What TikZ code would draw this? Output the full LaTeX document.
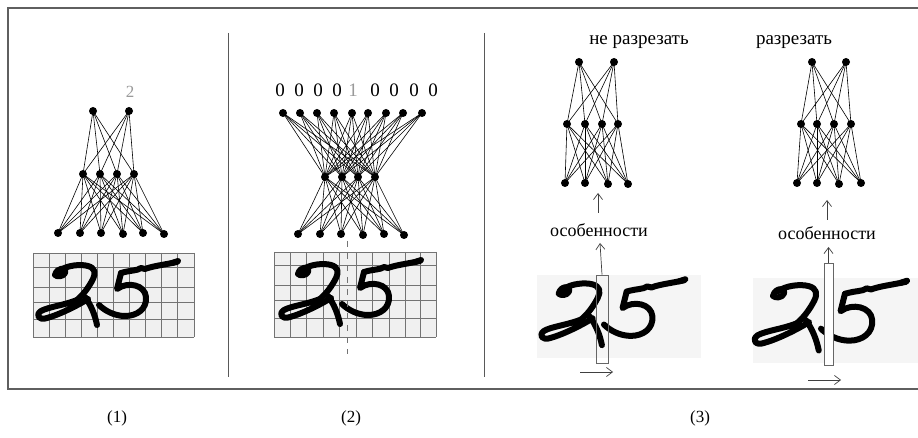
\documentclass[tikz,border=0pt]{standalone}
\usepackage{fontspec}
\setmainfont{Liberation Serif}
\usetikzlibrary{arrows.meta}
\definecolor{framegray}{HTML}{5F5F5F}
\definecolor{lightdigit}{HTML}{9A9A9A}
\tikzset{
  dot/.style={circle, fill=black, inner sep=0pt, minimum size=8pt},
  net/.style={line width=0.6pt, black},
  frameline/.style={line width=1.8pt, color=framegray},
  divider/.style={line width=0.9pt, color=black!65},
  gridcell/.style={fill=black!6},
  gridline/.style={line width=0.9pt, color=black!55},
  digit/.style={line width=6pt, line cap=round, line join=round, black},
  lbl/.style={font=\fontsize{17}{20}\selectfont, inner sep=0pt},
  captext/.style={font=\fontsize{19}{22}\selectfont, inner sep=0pt},
  feattext/.style={font=\fontsize{18}{21}\selectfont, inner sep=0pt},
  bigdigit/.style={font=\fontsize{19}{22}\selectfont, inner sep=0pt},
  arr/.style={-{Straight Barb[length=6pt, width=9pt]}, line width=0.7pt, color=black!75},
  slitbox/.style={draw=black!60, line width=0.8pt, inner sep=0pt},
}
\newcommand{\handtwentyfive}[3]{%
  \begin{scope}[shift={(#1,#2)}, scale=#3]
    % the two
    \draw[digit] (22,22) .. controls (24,14) and (34,14) .. (32,20) .. controls (30,24) and (24,24) .. (22,22);
    \draw[digit] (26,18) .. controls (34,12) and (48,11) .. (55,13) .. controls (62,15) and (63,20) .. (60,26) .. controls (56,34) and (50,42) .. (44,47);
    \draw[digit] (44,47) .. controls (32,52) and (15,54) .. (8,58) .. controls (2,62) and (6,68) .. (14,65) .. controls (25,62) and (42,54) .. (55,46);
    \draw[digit] (52,44) .. controls (58,52) and (62,62) .. (64,72);
    % the five
    \draw[digit] (88,20) .. controls (98,17) and (104,18) .. (108,15) -- (112,16) .. controls (120,13) and (130,12) .. (144,9);
    \draw[digit] (139,10) -- (145,8);
    \draw[digit] (88,20) -- (84,36) .. controls (95,28) and (112,32) .. (113,44) .. controls (114,56) and (104,63) .. (92,63) .. controls (82,63) and (72,58) .. (66,52);
  \end{scope}%
}
\begin{document}
\begin{tikzpicture}[x=1pt, y=-1pt]
\useasboundingbox (0,0) rectangle (918,438);
\fill[white] (0,0) rectangle (918,438);

% frame and dividers
\coordinate (frTR) at (922,8);
\coordinate (frTL) at (8,8);
\coordinate (frBL) at (8,389);
\coordinate (frBR) at (922,389);
\draw[frameline] (frTR) -- (frTL) -- (frBL) -- (frBR);
\coordinate (d1t) at (228,33); \coordinate (d1b) at (228,377);
\coordinate (d2t) at (484,33); \coordinate (d2b) at (484,377);
\draw[divider] (d1t) -- (d1b);
\draw[divider] (d2t) -- (d2b);

% ---------------- panel 1 ----------------
\fill[gridcell] (33,253) rectangle (194,337);
\foreach \i in {0,...,10} \draw[gridline] ({33+16.1*\i},253) -- ({33+16.1*\i},337);
\foreach \yy in {253,267,287,302,319,337} \draw[gridline] (33,\yy) -- (194,\yy);
\handtwentyfive{33}{253}{1}

\node[lbl, text=lightdigit] (p1out) at (130,92) {2};
\foreach \x [count=\i] in {93,129} \node[dot] (p1t\i) at (\x,111) {};
\foreach \x [count=\i] in {83,100,117,134} \node[dot] (p1m\i) at (\x,174) {};
\foreach \x/\y [count=\i] in {58/233,80/233,101/233,123/234,143/233,164/234} \node[dot] (p1b\i) at (\x,\y) {};
\foreach \i in {1,2} \foreach \j in {1,...,4} \draw[net] (p1t\i.center) -- (p1m\j.center);
\foreach \i in {1,...,4} \foreach \j in {1,...,6} \draw[net] (p1m\i.center) -- (p1b\j.center);

% ---------------- panel 2 ----------------
\fill[gridcell] (274,252) rectangle (436,337);
\foreach \xx in {274,290.7,306.7,323.3,339.3,356,372.7,389.3,405,420,436} \draw[gridline] (\xx,252) -- (\xx,337);
\foreach \yy in {252,265,285,300,318,337} \draw[gridline] (274,\yy) -- (436,\yy);
\handtwentyfive{276}{252}{1}
\coordinate (cutT) at (347,241);
\coordinate (cutB) at (347,354);
\draw[line width=0.8pt, black!55, dash pattern=on 6pt off 6pt] (cutT) -- (cutB);

\foreach \x/\c [count=\i] in {280/black,299/black,318/black,337/black,353/lightdigit,375/black,394/black,414/black,433/black}
  \node[bigdigit, text=\c] (p2o\i) at (\x,90) {\ifnum\i=5 1\else 0\fi};
\foreach \x [count=\i] in {283,300,317,334,352,368,386,403,422} \node[dot] (p2t\i) at (\x,113) {};
\foreach \x [count=\i] in {325,342,358,375} \node[dot] (p2m\i) at (\x,177) {};
\foreach \x/\y [count=\i] in {298/234,320/234,341/234,363/235,384/234,404/235} \node[dot] (p2b\i) at (\x,\y) {};
\foreach \i in {1,...,9} \foreach \j in {1,...,4} \draw[net] (p2t\i.center) -- (p2m\j.center);
\foreach \i in {1,...,4} \foreach \j in {1,...,6} \draw[net] (p2m\i.center) -- (p2b\j.center);

% ---------------- panel 3a ----------------
\node[captext] (cap3a) at (639,42) {не разрезать};
\foreach \x [count=\i] in {579,614} \node[dot] (qat\i) at (\x,62) {};
\foreach \x [count=\i] in {567,585,602,618} \node[dot] (qam\i) at (\x,124) {};
\foreach \x/\y [count=\i] in {565/183,585/183,608/184,628/184} \node[dot] (qab\i) at (\x,\y) {};
\foreach \i in {1,2} \foreach \j in {1,...,4} \draw[net] (qat\i.center) -- (qam\j.center);
\foreach \i in {1,...,4} \foreach \j in {1,...,4} \draw[net] (qam\i.center) -- (qab\j.center);

\fill[black!4] (537,275) rectangle (701,358);
\handtwentyfive{536}{271}{1.03}
\node[slitbox, minimum width=12pt, minimum height=88pt] (slitA) at (602,319) {};
\node[feattext] (featA) at (599,230) {особенности};
\coordinate (featAtip) at (600,243);
\coordinate (netAin) at (598,193);
\coordinate (netAfrom) at (598,213);
\draw[arr] (slitA.north) -- (featAtip);
\draw[arr] (netAfrom) -- (netAin);
\coordinate (moveAs) at (580,372); \coordinate (moveAe) at (613,372);
\draw[arr] (moveAs) -- (moveAe);

% ---------------- panel 3b ----------------
\node[captext] (cap3b) at (794,42) {разрезать};
\foreach \x [count=\i] in {812,846} \node[dot] (qbt\i) at (\x,62) {};
\foreach \x [count=\i] in {801,817,834,851} \node[dot] (qbm\i) at (\x,124) {};
\foreach \x/\y [count=\i] in {797/183,817/183,839/184,861/183} \node[dot] (qbb\i) at (\x,\y) {};
\foreach \i in {1,2} \foreach \j in {1,...,4} \draw[net] (qbt\i.center) -- (qbm\j.center);
\foreach \i in {1,...,4} \foreach \j in {1,...,4} \draw[net] (qbm\i.center) -- (qbb\j.center);

\fill[black!4] (753,278) rectangle (918,363);
\handtwentyfive{749}{272}{1.09}
\node[slitbox, fill=white, minimum width=9pt, minimum height=102pt] (slitB) at (828.5,314) {};
\node[feattext] (featB) at (827,233) {особенности};
\coordinate (featBtip) at (828.5,247);
\coordinate (netBin) at (827,200);
\coordinate (netBfrom) at (827,220);
\draw[arr] (slitB.north) -- (featBtip);
\draw[arr] (netBfrom) -- (netBin);
\coordinate (moveBs) at (808,380); \coordinate (moveBe) at (841,380);
\draw[arr] (moveBs) -- (moveBe);

% ---------------- panel labels ----------------
\node[lbl] (lab1) at (117,418) {(1)};
\node[lbl] (lab2) at (351,418) {(2)};
\node[lbl] (lab3) at (700,418) {(3)};
\end{tikzpicture}
\end{document}
